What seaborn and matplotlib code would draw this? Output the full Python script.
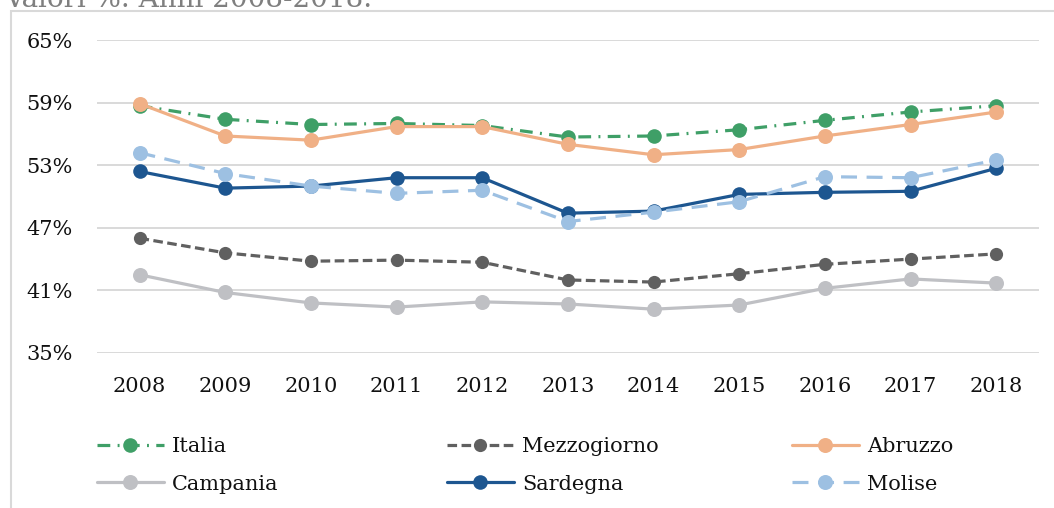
import matplotlib
matplotlib.use("Agg")
import matplotlib.pyplot as plt
from matplotlib.patches import Rectangle
import numpy as np
import pandas as pd
import seaborn as sns

years = ["2008", "2009", "2010", "2011", "2012", "2013", "2014", "2015", "2016", "2017", "2018"]
italia      = [58.7, 57.4, 56.9, 57.0, 56.8, 55.7, 55.8, 56.4, 57.3, 58.1, 58.7]
mezzogiorno = [46.0, 44.6, 43.8, 43.9, 43.7, 42.0, 41.8, 42.6, 43.5, 44.0, 44.5]
abruzzo     = [58.9, 55.8, 55.4, 56.7, 56.7, 55.0, 54.0, 54.5, 55.8, 56.9, 58.1]
campania    = [42.5, 40.8, 39.8, 39.4, 39.9, 39.7, 39.2, 39.6, 41.2, 42.1, 41.7]
sardegna    = [52.4, 50.8, 51.0, 51.8, 51.8, 48.4, 48.6, 50.2, 50.4, 50.5, 52.7]
molise      = [54.2, 52.2, 51.0, 50.3, 50.6, 47.6, 48.5, 49.5, 51.9, 51.8, 53.5]
yticks = [35, 41, 47, 53, 59, 65]
title_text = "Valori %. Anni 2008-2018."

series = [
    ("Italia", italia, "#3F9F67", (0, (4, 2.3, 0.6, 2.3)), 10.5),
    ("Mezzogiorno", mezzogiorno, "#606060", (0, (3, 1.4)), 9.5),
    ("Abruzzo", abruzzo, "#F0B086", "-", 10.8),
    ("Campania", campania, "#BFC0C4", "-", 10.8),
    ("Sardegna", sardegna, "#1D5690", "-", 10.5),
    ("Molise", molise, "#9DC0E2", (0, (5, 3)), 10.8),
]

sns.set_theme(style="white")
plt.rcParams["font.family"] = ["DejaVu Serif"]

fig = plt.figure(figsize=(10.54, 5.08), dpi=100)
ax = fig.add_axes([96.7 / 1054, 1 - 353 / 508, (1039 - 96.7) / 1054, (353 - 40) / 508])

xs = np.arange(len(years))
for i, (name, vals, col, ls, ms) in enumerate(series):
    df = pd.DataFrame({"x": xs, "y": vals})
    sns.lineplot(data=df, x="x", y="y", ax=ax, color=col, linestyle=ls, linewidth=2.3,
                 marker="o", markersize=ms, markeredgecolor=col, markerfacecolor=col,
                 markeredgewidth=0, label=name, zorder=3 + i)
leg = ax.get_legend()
if leg is not None:
    leg.remove()
hl, ll = ax.get_legend_handles_labels()
hmap = dict(zip(ll, hl))

ax.set_xlim(-0.5, len(years) - 0.5)
ax.set_ylim(35, 65)
ax.set_yticks(yticks)
ax.set_yticklabels([f"{v}%" for v in yticks])
ax.set_xticks(xs)
ax.set_xticklabels(years)
ax.set_xlabel("")
ax.set_ylabel("")
ax.grid(axis="y", color="#D9D9D9", linewidth=1.4)
ax.grid(axis="x", visible=False)
for s in ax.spines.values():
    s.set_visible(False)
ax.tick_params(axis="both", length=0, labelsize=15, colors="#111111")
ax.tick_params(axis="y", pad=17)
ax.tick_params(axis="x", pad=17)

# outer frame (partially visible)
fig.add_artist(Rectangle((11 / 1054, -0.2), 2.0, 1 - 11 / 508 + 0.2, transform=fig.transFigure,
                         fill=False, edgecolor="#D9D9D9", linewidth=1.5, zorder=0))

# cut-off title (only its lower part is visible, as in the reference)
fig.text(4 / 1054, 1 - 7 / 508, title_text, fontsize=20, color="#7F7F7F",
         ha="left", va="baseline")

cols = [(["Italia", "Campania"], 97), (["Mezzogiorno", "Sardegna"], 447), (["Abruzzo", "Molise"], 792)]
for names, xpx in cols:
    lg = fig.legend([hmap[n] for n in names], names, loc="upper left",
                    bbox_to_anchor=(xpx / 1054, 1 - 437 / 508), frameon=False,
                    borderaxespad=0, borderpad=0, handlelength=3.2, handletextpad=0.4,
                    labelspacing=0.9, fontsize=15)
    for t in lg.get_texts():
        t.set_color("#111111")

fig.savefig("out.png", dpi=100)
